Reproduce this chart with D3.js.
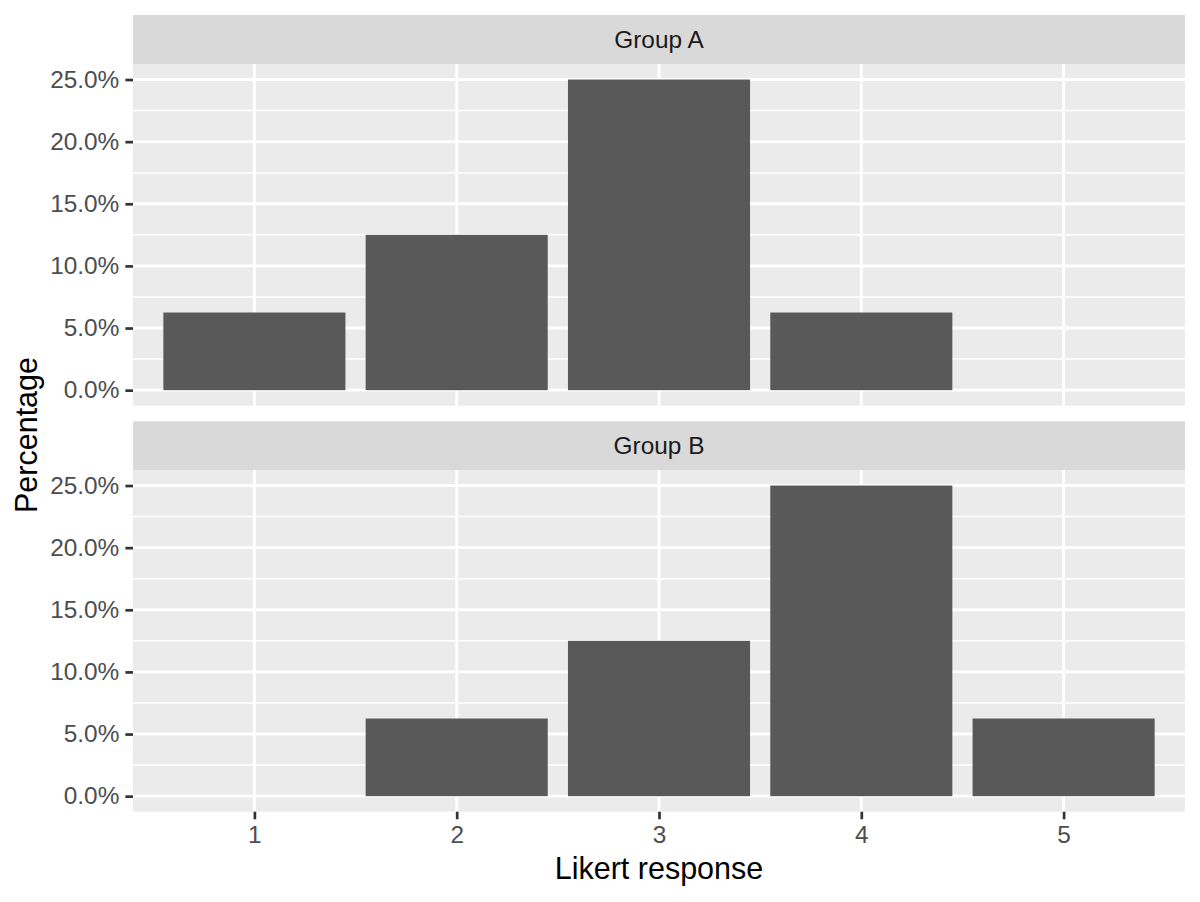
<!DOCTYPE html>
<html><head><meta charset="utf-8">
<script src="https://cdn.jsdelivr.net/npm/d3@7"></script>
<style>body{margin:0;background:#fff}svg{display:block;font-family:"Liberation Sans",Arial,sans-serif}</style>
</head><body>
<svg id="chart" width="1200" height="902"></svg>
<script>
const categories = [1, 2, 3, 4, 5];
const groups = ["Group A", "Group B"];
const groupA = [6.25, 12.5, 25, 6.25, 0];
const groupB = [0, 6.25, 12.5, 25, 6.25];
const yTicks = [0, 5, 10, 15, 20, 25];
const yMinor = [2.5, 7.5, 12.5, 17.5, 22.5];
const seriesByGroup = [groupA, groupB];

const svg = d3.select("#chart");
const left = 133, right = 1185;
const panels = [
  {stripTop: 15, top: 64, bottom: 405.7},
  {stripTop: 421.3, top: 470, bottom: 811.7}
];
const tickFont = 24.4, titleFont = 30.5, tickLen = 7.6, tickPad = 6.1;

const x = d3.scaleLinear().domain([0.4, 5.6]).range([left, right]);
const barW = 0.9;

panels.forEach((p, gi) => {
  const y = d3.scaleLinear().domain([-1.25, 26.25]).range([p.bottom, p.top]);
  const g = svg.append("g");
  // strip
  g.append("rect").attr("x", left).attr("y", p.stripTop).attr("width", right - left)
    .attr("height", p.top - p.stripTop).attr("fill", "#D9D9D9");
  g.append("text").attr("x", (left + right) / 2).attr("y", (p.stripTop + p.top) / 2)
    .attr("dy", "0.35em").attr("text-anchor", "middle").attr("font-size", tickFont)
    .attr("fill", "#1A1A1A").text(groups[gi]);
  // panel bg
  g.append("rect").attr("x", left).attr("y", p.top).attr("width", right - left)
    .attr("height", p.bottom - p.top).attr("fill", "#EBEBEB");
  // minor grid
  g.selectAll(".ymin").data(yMinor).enter().append("line")
    .attr("x1", left).attr("x2", right).attr("y1", d => y(d)).attr("y2", d => y(d))
    .attr("stroke", "#fff").attr("stroke-width", 1.5);
  // major grid
  g.selectAll(".ymaj").data(yTicks).enter().append("line")
    .attr("x1", left).attr("x2", right).attr("y1", d => y(d)).attr("y2", d => y(d))
    .attr("stroke", "#fff").attr("stroke-width", 2.9);
  g.selectAll(".xmaj").data(categories).enter().append("line")
    .attr("x1", d => x(d)).attr("x2", d => x(d)).attr("y1", p.top).attr("y2", p.bottom)
    .attr("stroke", "#fff").attr("stroke-width", 2.9);
  // bars
  const vals = seriesByGroup[gi];
  g.selectAll(".bar").data(categories.map((c, i) => ({c, v: vals[i]})).filter(d => d.v > 0))
    .enter().append("rect")
    .attr("x", d => x(d.c - barW / 2)).attr("width", d => x(d.c + barW / 2) - x(d.c - barW / 2))
    .attr("y", d => y(d.v)).attr("height", d => y(0) - y(d.v)).attr("fill", "#595959");
  // y axis
  const ya = g.append("g").attr("transform", `translate(${left},0)`)
    .call(d3.axisLeft(y).tickValues(yTicks).tickSize(tickLen).tickPadding(tickPad)
      .tickFormat(d => d.toFixed(1) + "%"));
  ya.select(".domain").remove();
  ya.selectAll(".tick line").attr("stroke", "#333333").attr("stroke-width", 2.7);
  ya.selectAll(".tick text").attr("fill", "#4D4D4D").attr("font-size", tickFont)
    .attr("font-family", "Liberation Sans, Arial, sans-serif");
  if (gi === 1) {
    const xa = g.append("g").attr("transform", `translate(0,${p.bottom})`)
      .call(d3.axisBottom(x).tickValues(categories).tickSize(tickLen).tickPadding(tickPad)
        .tickFormat(d3.format("d")));
    xa.select(".domain").remove();
    xa.selectAll(".tick line").attr("stroke", "#333333").attr("stroke-width", 2.7);
    xa.selectAll(".tick text").attr("fill", "#4D4D4D").attr("font-size", tickFont)
      .attr("font-family", "Liberation Sans, Arial, sans-serif");
  }
});

svg.append("text").attr("x", (left + right) / 2).attr("y", 879).attr("text-anchor", "middle")
  .attr("font-size", titleFont).attr("fill", "#000").text("Likert response");
svg.append("text").attr("transform", `translate(37,435) rotate(-90)`)
  .attr("text-anchor", "middle").attr("font-size", titleFont).attr("fill", "#000").text("Percentage");
</script>
</body></html>
